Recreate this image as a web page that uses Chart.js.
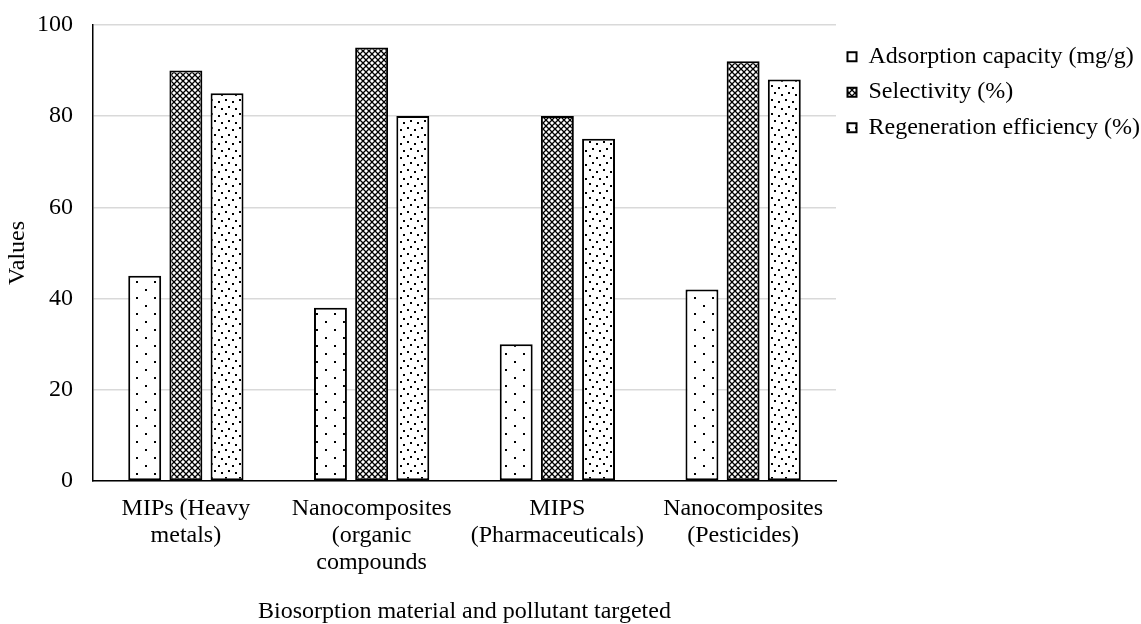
<!DOCTYPE html>
<html>
<head>
<meta charset="utf-8">
<script src="https://cdn.jsdelivr.net/npm/chart.js@4.4.0/dist/chart.umd.min.js"></script>
<style>
  html, body { margin: 0; padding: 0; background: #fff; }
</style>
</head>
<body>
<canvas id="chart" width="1141" height="624"></canvas>
<script>
const CATEGORIES = [
  ['MIPs (Heavy', 'metals)'],
  ['Nanocomposites', '(organic', 'compounds'],
  ['MIPS', '(Pharmaceuticals)'],
  ['Nanocomposites', '(Pesticides)'],
];
const SERIES_NAMES = ['Adsorption capacity (mg/g)', 'Selectivity (%)', 'Regeneration efficiency (%)'];
const ADSORPTION = [45, 38, 30, 42];
const SELECTIVITY = [90, 95, 80, 92];
const REGENERATION = [85, 80, 75, 88];
const Y_MIN = 0;
const Y_MAX = 100;
const Y_STEP = 20;

const FONT = '"Liberation Serif", "Times New Roman", serif';

// small tiles used as bar fills (imitates Excel's pattern fills)
function makeTile(w, h, draw) {
  const c = document.createElement('canvas');
  c.width = w;
  c.height = h;
  const ctx = c.getContext('2d');
  ctx.fillStyle = '#fff';
  ctx.fillRect(0, 0, w, h);
  ctx.fillStyle = '#000';
  ctx.strokeStyle = '#000';
  draw(ctx);
  return document.getElementById('chart').getContext('2d').createPattern(c, 'repeat');
}

const sparseDots = makeTile(18, 16, (ctx) => {
  ctx.fillRect(1, 1, 2, 2);
  ctx.fillRect(10, 9, 2, 2);
});

const crossHatch = makeTile(6, 6, (ctx) => {
  ctx.lineWidth = 1.3;
  ctx.beginPath();
  ctx.moveTo(-1, -1); ctx.lineTo(7, 7);
  ctx.moveTo(7, -1); ctx.lineTo(-1, 7);
  ctx.stroke();
});

const denseDots = makeTile(14, 14, (ctx) => {
  ctx.fillRect(1, 1, 2, 2);
  ctx.fillRect(8, 3, 2, 2);
  ctx.fillRect(4, 8, 2, 2);
  ctx.fillRect(11, 10, 2, 2);
});

Chart.defaults.font.family = FONT;
Chart.defaults.font.size = 24;
Chart.defaults.color = '#000';

const barStyle = {
  borderColor: '#000',
  borderWidth: 2,
  borderSkipped: false,
  categoryPercentage: 0.665,
  barPercentage: 0.8,
};

new Chart(document.getElementById('chart'), {
  type: 'bar',
  data: {
    labels: CATEGORIES,
    datasets: [
      { label: SERIES_NAMES[0], data: ADSORPTION, backgroundColor: sparseDots, ...barStyle },
      { label: SERIES_NAMES[1], data: SELECTIVITY, backgroundColor: crossHatch, ...barStyle },
      { label: SERIES_NAMES[2], data: REGENERATION, backgroundColor: denseDots, ...barStyle },
    ],
  },
  options: {
    responsive: false,
    animation: false,
    layout: { padding: { top: 7, right: 0, bottom: 0, left: 0 } },
    plugins: {
      tooltip: { enabled: false },
      legend: {
        position: 'right',
        align: 'start',
        fullSize: false,
        maxWidth: 305,
        // blank title only nudges the entries down a little
        title: { display: true, text: ' ', font: { size: 7, lineHeight: 1.2 }, padding: 0 },
        labels: {
          boxWidth: 9,
          boxHeight: 9,
          padding: 11.5,
          color: '#000',
          font: { size: 24 },
        },
      },
    },
    scales: {
      x: {
        grid: { display: false, drawTicks: false },
        border: { display: true, color: '#000', width: 1.5 },
        ticks: { padding: 14.5, maxRotation: 0, autoSkip: false, font: { size: 24, lineHeight: 1.125 } },
        title: {
          display: true,
          text: 'Biosorption material and pollutant targeted',
          font: { size: 24, lineHeight: 1 },
          padding: { top: 9, bottom: 0 },
        },
      },
      y: {
        min: Y_MIN,
        max: Y_MAX,
        grid: { color: '#d9d9d9', lineWidth: 1.5, drawTicks: false },
        border: { display: true, color: '#000', width: 1.5 },
        ticks: { stepSize: Y_STEP, padding: 20, font: { size: 24, lineHeight: 0.4 } },
        title: {
          display: true,
          text: 'Values',
          font: { size: 24, lineHeight: 1 },
          padding: { top: 6, bottom: -13 },
        },
      },
    },
  },
});
</script>
</body>
</html>
